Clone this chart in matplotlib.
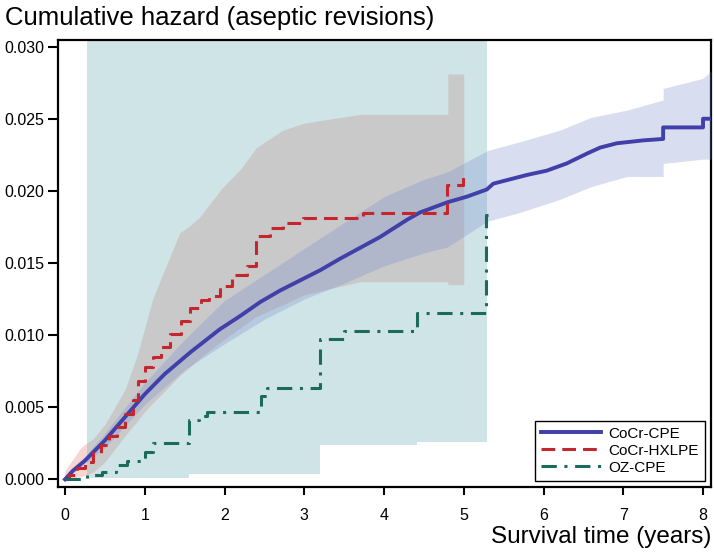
import numpy as np
import matplotlib
matplotlib.use('Agg')
import matplotlib.pyplot as plt

plt.rcParams['font.family'] = ['Liberation Sans', 'DejaVu Sans']

# CoCr-CPE cumulative hazard
cpe_t = [0, 0.1, 0.25, 0.5, 0.75, 1.0, 1.25, 1.57, 1.94, 2.19, 2.45, 2.7, 2.95, 3.2, 3.45, 3.95, 4.29, 4.45, 4.79,
         5.04, 5.29, 5.37, 5.79, 6.04, 6.29, 6.55, 6.71, 6.92, 7.25, 7.5, 7.5, 8.0, 8.0, 8.1]
cpe_y = [0, 0.0006, 0.0013, 0.0027, 0.0043, 0.0059, 0.0073, 0.0088, 0.0104, 0.0113, 0.0123, 0.0131, 0.0138, 0.0145,
         0.0153, 0.0168, 0.0180, 0.0185, 0.0192, 0.0196, 0.0201, 0.0205, 0.0211, 0.0214, 0.0219, 0.0226, 0.0230,
         0.0233, 0.0235, 0.0236, 0.0244, 0.0244, 0.0250, 0.0250]
cpe_ci_t = [0, 0.5, 1.0, 1.5, 2.0, 2.5, 3.0, 3.5, 4.0, 4.5, 4.79, 5.3, 5.7, 6.2, 6.6, 7.05, 7.5, 7.5, 8.0, 8.1]
cpe_hi = [0, 0.0032, 0.0067, 0.0097, 0.0124, 0.0142, 0.0160, 0.0178, 0.0196, 0.0208, 0.0213, 0.0228, 0.0234,
          0.0242, 0.0251, 0.0256, 0.0263, 0.0271, 0.0278, 0.0283]
cpe_lo = [0, 0.0022, 0.0052, 0.0076, 0.0094, 0.0111, 0.0125, 0.0136, 0.0148, 0.0157, 0.0161, 0.0179, 0.0185,
          0.0194, 0.0203, 0.0210, 0.0210, 0.0219, 0.0222, 0.0222]

# CoCr-HXLPE
hx_t = [0, 0.05, 0.15, 0.25, 0.35, 0.45, 0.55, 0.65, 0.75, 0.85, 0.92, 1.0, 1.1, 1.2, 1.32, 1.45, 1.57, 1.7, 1.8,
        1.94, 2.1, 2.28, 2.4, 2.57, 2.73, 2.98, 3.74, 4.79, 4.99, 5.0]
hx_y = [0, 0.0003, 0.0008, 0.0012, 0.0018, 0.0024, 0.0030, 0.0036, 0.0045, 0.0055, 0.0068, 0.0078, 0.0085, 0.0092,
        0.0101, 0.0110, 0.0119, 0.0124, 0.0127, 0.0134, 0.0142, 0.0148, 0.0169, 0.0174, 0.0178, 0.0181, 0.0185,
        0.0204, 0.0210, 0.0210]
hx_ci_t = [0, 0.1, 0.2, 0.27, 0.35, 0.5, 0.75, 0.9, 1.0, 1.1, 1.23, 1.44, 1.57, 1.69, 1.97, 2.2, 2.4, 2.73, 3.0,
           3.7, 4.8, 4.8, 5.0]
hx_hi = [0.0006, 0.0014, 0.0022, 0.0025, 0.0028, 0.0038, 0.0062, 0.0085, 0.0105, 0.0125, 0.0143, 0.0171, 0.0176,
         0.0182, 0.0202, 0.0215, 0.0230, 0.0242, 0.0247, 0.0253, 0.0253, 0.0281, 0.0281]
hx_lo = [0, 0.0001, 0.0002, 0.0003, 0.0005, 0.0012, 0.0030, 0.0040, 0.0047, 0.0053, 0.0060, 0.0072, 0.0078,
         0.0084, 0.0096, 0.0105, 0.0113, 0.0121, 0.0128, 0.0137, 0.0137, 0.0135, 0.0135]

# OZ-CPE
oz_t = [0, 0.27, 0.47, 0.64, 0.78, 1.0, 1.1, 1.55, 1.68, 1.78, 2.46, 2.53, 3.2, 3.5, 4.41, 5.28, 5.3]
oz_y = [0, 0.0003, 0.0005, 0.0010, 0.0013, 0.0019, 0.0025, 0.0041, 0.0044, 0.0047, 0.0058, 0.0063, 0.0097,
        0.0103, 0.0115, 0.0183, 0.0183]
oz_ci_t = [0.27, 1.55, 3.2, 4.41, 5.29]
oz_lo = [0.0001, 0.0004, 0.0024, 0.0026, 0.0026]
oz_hi = [0.035, 0.035, 0.035, 0.035, 0.035]

teal_start = 0.27

fig = plt.figure(figsize=(7.14, 5.57), dpi=100)
ax = fig.add_axes([0.0812, 0.1257, 0.9146, 0.8025])

# confidence bands
ax.fill_between(oz_ci_t, oz_lo, oz_hi, step='post', color='#cfe4e6', lw=0, zorder=1)
hx_ci_t = np.array(hx_ci_t)
ax.fill_between(hx_ci_t, hx_lo, hx_hi, where=hx_ci_t <= teal_start, color='#f6d5d3', lw=0, zorder=2)
ax.fill_between(hx_ci_t, hx_lo, hx_hi, where=hx_ci_t >= teal_start, color='#c9c9ca', lw=0, zorder=2)
ax.fill_between(cpe_ci_t, cpe_lo, cpe_hi, color=(0.45, 0.54, 0.80), alpha=0.28, lw=0, zorder=3)

# curves
ax.plot(cpe_t, cpe_y, color='#4040a8', lw=2.8, label='CoCr-CPE', zorder=5)
ax.step(hx_t, hx_y, where='post', color='#c4262e', lw=2.2, dashes=(4.5, 2.3), label='CoCr-HXLPE', zorder=6)
ax.step(oz_t, oz_y, where='post', color='#1b6b5d', lw=2.2, dashes=(5, 2.5, 1, 2.5), label='OZ-CPE', zorder=6)

ax.set_xlim(-0.088, 8.1)
ax.set_ylim(-0.00053, 0.03046)
ax.set_xticks(range(0, 9))
ax.set_yticks([0, 0.005, 0.01, 0.015, 0.02, 0.025, 0.03])
ax.set_yticklabels(['0.000', '0.005', '0.010', '0.015', '0.020', '0.025', '0.030'])
ax.tick_params(axis='both', labelsize=11.5, width=1.5, color='black')
ax.tick_params(axis='y', length=7, pad=3)
ax.tick_params(axis='x', length=6, pad=9)
for s in ax.spines.values():
    s.set_linewidth(1.6)

leg = ax.legend(loc='lower right', fontsize=11, handlelength=3.9, frameon=True, fancybox=False,
                edgecolor='black', framealpha=1, borderaxespad=0.4, labelspacing=0.2, handletextpad=0.5)
leg.get_frame().set_linewidth(1.0)

fig.text(0.007, 0.967, 'Cumulative hazard (aseptic revisions)', fontsize=18.5, va='center', ha='left')
fig.text(0.996, 0.036, 'Survival time (years)', fontsize=17.5, va='center', ha='right')

fig.savefig('out.png', dpi=100)
